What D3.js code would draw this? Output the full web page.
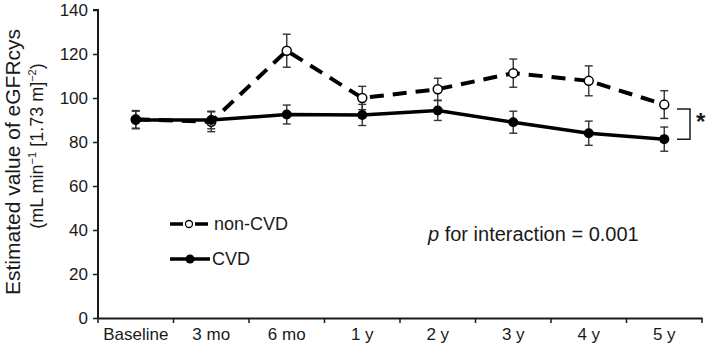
<!DOCTYPE html>
<html>
<head>
<meta charset="utf-8">
<script src="https://cdn.jsdelivr.net/npm/d3@7"></script>
<style>
  body { margin: 0; background: #fff; }
  text { font-family: Arial, "Liberation Sans", sans-serif; fill: #1a1a1a; }
</style>
</head>
<body>
<svg width="709" height="351"></svg>
<script>
const categories = ['Baseline', '3 mo', '6 mo', '1 y', '2 y', '3 y', '4 y', '5 y']
const nonCvd = [90.3, 89.2, 121.5, 100, 104, 111.3, 107.8, 97]
const nonCvdErr = [4, 4.5, 7.5, 5.3, 5, 6.4, 6.8, 6.3]
const cvd = [90, 90, 92.5, 92.3, 94.3, 89, 84, 81.3]
const cvdErr = [4, 4, 4.3, 4.8, 4.5, 5, 5.5, 5.5]
const yTicks = [0, 20, 40, 60, 80, 100, 120, 140]

const svg = d3.select('svg')
const margin = { top: 10, right: 7, bottom: 33, left: 98 }
const width = +svg.attr('width') - margin.left - margin.right
const height = +svg.attr('height') - margin.top - margin.bottom
const g = svg.append('g').attr('transform', 'translate(' + margin.left + ',' + margin.top + ')')

const x = d3.scaleBand()
  .domain(categories)
  .range([0, width])
  .padding(0)

const y = d3.scaleLinear()
  .domain([0, 140])
  .range([height, 0])

const cx = function (c) { return x(c) + x.bandwidth() / 2 }

// y axis
const yAxis = g.append('g')
  .call(d3.axisLeft(y).tickValues(yTicks).tickSize(5).tickPadding(5))
yAxis.select('.domain').attr('stroke', '#1a1a1a').attr('stroke-width', 2).attr('d', 'M0,' + height + 'V0H-5')
yAxis.selectAll('.tick line').attr('stroke', '#1a1a1a').attr('stroke-width', 1.5)
yAxis.selectAll('.tick text').style('font-size', '17px')

// x axis: labels at band centres, ticks at band edges
const xAxis = g.append('g')
  .attr('transform', 'translate(0,' + height + ')')
  .call(d3.axisBottom(x).tickSize(0).tickPadding(10))
xAxis.select('.domain').attr('stroke', '#1a1a1a').attr('stroke-width', 2)
xAxis.selectAll('.tick text').style('font-size', '17px')
xAxis.selectAll('.edge')
  .data(categories.map(function (c) { return x(c) }).concat([width]))
  .enter().append('line')
  .attr('class', 'edge')
  .attr('x1', function (d) { return d })
  .attr('x2', function (d) { return d })
  .attr('y1', 0)
  .attr('y2', 5)
  .attr('stroke', '#1a1a1a')
  .attr('stroke-width', 1.5)

// y title
const title = svg.append('g').attr('transform', 'rotate(-90)')
title.append('text')
  .attr('x', -162).attr('y', 20)
  .attr('text-anchor', 'middle')
  .style('font-size', '21px')
  .text('Estimated value of eGFRcys')
const t2 = title.append('text')
  .attr('x', -146).attr('y', 43)
  .attr('text-anchor', 'middle')
  .style('font-size', '18px')
t2.append('tspan').text('(mL min')
t2.append('tspan').attr('dy', -7).style('font-size', '11px').text('\u22121')
t2.append('tspan').attr('dy', 7).text(' [1.73 m]')
t2.append('tspan').attr('dy', -7).style('font-size', '11px').text('\u22122')
t2.append('tspan').attr('dy', 7).text(')')

// error bars
function errorBars (vals, errs, cls) {
  const eb = g.selectAll('.' + cls)
    .data(categories.map(function (c, i) { return { c: c, v: vals[i], e: errs[i] } }))
    .enter().append('g')
    .attr('class', cls)
    .attr('stroke', '#333')
    .attr('stroke-width', 1.4)
  eb.append('line')
    .attr('x1', function (d) { return cx(d.c) })
    .attr('x2', function (d) { return cx(d.c) })
    .attr('y1', function (d) { return y(d.v + d.e) })
    .attr('y2', function (d) { return y(d.v - d.e) })
  eb.append('line')
    .attr('x1', function (d) { return cx(d.c) - 4 })
    .attr('x2', function (d) { return cx(d.c) + 4 })
    .attr('y1', function (d) { return y(d.v + d.e) })
    .attr('y2', function (d) { return y(d.v + d.e) })
  eb.append('line')
    .attr('x1', function (d) { return cx(d.c) - 4 })
    .attr('x2', function (d) { return cx(d.c) + 4 })
    .attr('y1', function (d) { return y(d.v - d.e) })
    .attr('y2', function (d) { return y(d.v - d.e) })
}
errorBars(nonCvd, nonCvdErr, 'eb-non')
errorBars(cvd, cvdErr, 'eb-cvd')

const line = d3.line()
  .x(function (d, i) { return cx(categories[i]) })
  .y(function (d) { return y(d) })

g.append('path')
  .datum(nonCvd)
  .attr('d', line)
  .attr('fill', 'none')
  .attr('stroke', '#000')
  .attr('stroke-width', 4)
  .attr('stroke-dasharray', '14,9')

g.append('path')
  .datum(cvd)
  .attr('d', line)
  .attr('fill', 'none')
  .attr('stroke', '#000')
  .attr('stroke-width', 3.5)

g.selectAll('.pt-non')
  .data(nonCvd)
  .enter().append('circle')
  .attr('class', 'pt-non')
  .attr('cx', function (d, i) { return cx(categories[i]) })
  .attr('cy', function (d) { return y(d) })
  .attr('r', 4.5)
  .attr('fill', '#fff')
  .attr('stroke', '#000')
  .attr('stroke-width', 1.5)

g.selectAll('.pt-cvd')
  .data(cvd)
  .enter().append('circle')
  .attr('class', 'pt-cvd')
  .attr('cx', function (d, i) { return cx(categories[i]) })
  .attr('cy', function (d) { return y(d) })
  .attr('r', 5)
  .attr('fill', '#000')

// significance bracket at 5 y
const last = categories.length - 1
const bx = width - 25
const bTop = y(nonCvd[last] - 2)
const bBot = y(cvd[last])
g.append('path')
  .attr('d', 'M' + bx + ',' + bTop + 'H' + (bx + 13) + 'V' + bBot + 'H' + bx)
  .attr('fill', 'none')
  .attr('stroke', '#1a1a1a')
  .attr('stroke-width', 1.5)
g.append('text')
  .attr('x', bx + 19)
  .attr('y', (bTop + bBot) / 2 + 6)
  .style('font-size', '24px')
  .style('font-weight', 'bold')
  .text('*')

// legend
const legend = svg.append('g').attr('transform', 'translate(170,224)')
legend.append('line')
  .attr('x1', 0).attr('x2', 38).attr('y1', 0).attr('y2', 0)
  .attr('stroke', '#000').attr('stroke-width', 3.5)
  .attr('stroke-dasharray', '13,12')
legend.append('circle')
  .attr('cx', 19).attr('cy', 0).attr('r', 3.5)
  .attr('fill', '#fff').attr('stroke', '#000').attr('stroke-width', 1.3)
legend.append('text')
  .attr('x', 44).attr('y', 6)
  .style('font-size', '18px')
  .text('non-CVD')
legend.append('line')
  .attr('x1', 0).attr('x2', 40).attr('y1', 35).attr('y2', 35)
  .attr('stroke', '#000').attr('stroke-width', 3.5)
legend.append('circle')
  .attr('cx', 20).attr('cy', 35).attr('r', 4.5)
  .attr('fill', '#000')
legend.append('text')
  .attr('x', 42).attr('y', 41)
  .style('font-size', '18px')
  .text('CVD')

const pText = svg.append('text')
  .attr('x', 428)
  .attr('y', 241)
  .style('font-size', '20px')
pText.append('tspan').style('font-style', 'italic').text('p')
pText.append('tspan').text(' for interaction = 0.001')
</script>
</body>
</html>
